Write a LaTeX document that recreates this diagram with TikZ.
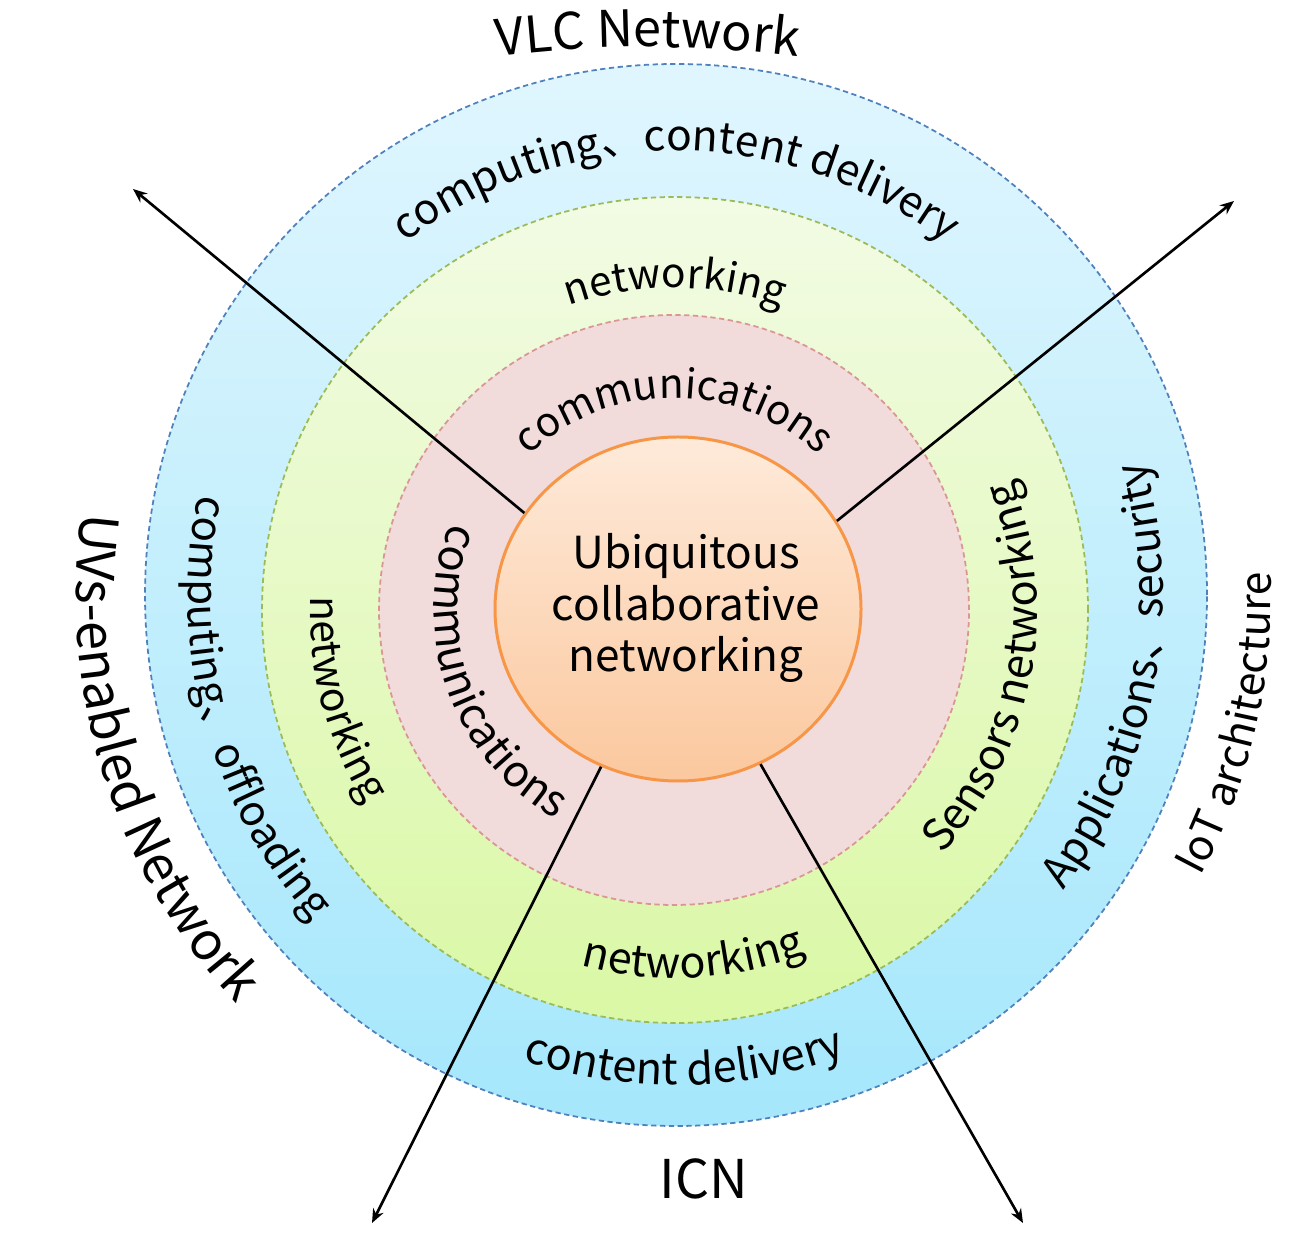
\documentclass[tikz,border=0pt]{standalone}
\usepackage{fontspec}
\setmainfont{Noto Sans CJK SC}
\usetikzlibrary{arrows.meta,decorations.text,shapes.geometric}

\definecolor{outerTop}{RGB}{224,246,254}
\definecolor{outerBot}{RGB}{165,231,252}
\definecolor{outerLine}{RGB}{79,129,189}
\definecolor{greenTop}{RGB}{242,251,228}
\definecolor{greenBot}{RGB}{218,248,165}
\definecolor{greenLine}{RGB}{155,187,89}
\definecolor{pinkFill}{RGB}{241,219,219}
\definecolor{pinkLine}{RGB}{217,150,148}
\definecolor{coreTop}{RGB}{254,234,218}
\definecolor{coreBot}{RGB}{251,200,158}
\definecolor{coreLine}{RGB}{247,150,70}

% font size of each curved label
\newcommand\fs[1]{\fontsize{#1}{1.15em}\selectfont}

\begin{document}
\begin{tikzpicture}[x=0.2mm, y=0.2mm,
    ring/.style = {dash pattern=on 3pt off 2pt, line width=1pt},
    core/.style = {draw=coreLine, line width=1.7pt, ellipse, top color=coreTop, bottom color=coreBot, minimum width=73.2mm, minimum height=68.8mm, inner sep=0pt},
    coretext/.style = {align=center, font=\fontsize{25.1}{29.5}\selectfont},
    arrowline/.style = {-{Stealth[length=8pt,width=6.5pt]}, line width=1.5pt},
    arctext/.style = {decorate, decoration={text along path, text align=center, text={#1}}}]
    \useasboundingbox (0,0) rectangle (1298,1237);
    \coordinate (O) at (676,642);
    \coordinate (G) at (675,627);
    \coordinate (P) at (674,627);

    % rings
    \draw[ring, draw=outerLine, top color=outerTop, bottom color=outerBot] (O) circle[radius=531];
    \draw[ring, draw=greenLine, top color=greenTop, bottom color=greenBot] (G) circle[radius=413];
    \draw[ring, draw=pinkLine, fill=pinkFill] (P) circle[radius=295];

    % centre and arrows
    \node[core] (core) at (678,628) {};
    \node[coretext] (title) at (686,629) {Ubiquitous\\collaborative\\networking};
    \coordinate (tipNW) at (133,1048);
    \coordinate (tipNE) at (1234,1036);
    \coordinate (tipSW) at (372,14);
    \coordinate (tipSE) at (1023,14);
    \draw[arrowline] (core.148) -- (tipNW);
    \draw[arrowline] (core.29) -- (tipNE);
    \draw[arrowline] (core.244) -- (tipSW);
    \draw[arrowline] (core.298) -- (tipSE);

    % pink ring
    \path[arctext={|\fs{23.1}|communications}] (P) ++(150:212) arc[start angle=150, end angle=30, radius=212];
    \path[arctext={|\fs{24.8}|communications}] (P) ++(139.6:240) arc[start angle=139.6, end angle=259.6, radius=240];

    % green ring
    \path[arctext={|\fs{23.1}|networking}] (G) ++(150:322) arc[start angle=150, end angle=30, radius=322];
    \path[arctext={|\fs{24.5}|networking}] (G) ++(213:368) arc[start angle=213, end angle=333, radius=368];
    \path[arctext={|\fs{23.3}|networking}] (G) ++(135:365) arc[start angle=135, end angle=255, radius=365];
    \path[arctext={|\fs{24.7}|Sensors networking}] (G) ++(289.3:362) arc[start angle=289.3, end angle=409.3, radius=362];

    % outer ring
    \path[arctext={|\fs{24.2}|computing、content delivery}] (O) ++(150:444) arc[start angle=150, end angle=30, radius=444];
    \path[arctext={|\fs{24.7}|content delivery}] (O) ++(211:490) arc[start angle=211, end angle=331, radius=490];
    \path[arctext={|\fs{24}|computing、offloading}] (O) ++(135:488) arc[start angle=135, end angle=255, radius=488];
    \path[arctext={|\fs{24.5}|Applications、security}] (O) ++(289.3:487) arc[start angle=289.3, end angle=409.3, radius=487];

    % network names
    \path[arctext={|\fs{28.7}|VLC Network}] (648,-10) ++(100:1200) arc[start angle=100, end angle=80, radius=1200];
    \path[arctext={|\fs{29.9}|UVs-enabled Network}] (O) ++(137.5:600) arc[start angle=137.5, end angle=257.5, radius=600];
    \path[arctext={|\fs{24.2}|IoT architecture}] (O) ++(287:595) arc[start angle=287, end angle=407, radius=595];
    \node[anchor=base, font=\fs{30.4}] (icn) at (704,39) {ICN};
\end{tikzpicture}
\end{document}
